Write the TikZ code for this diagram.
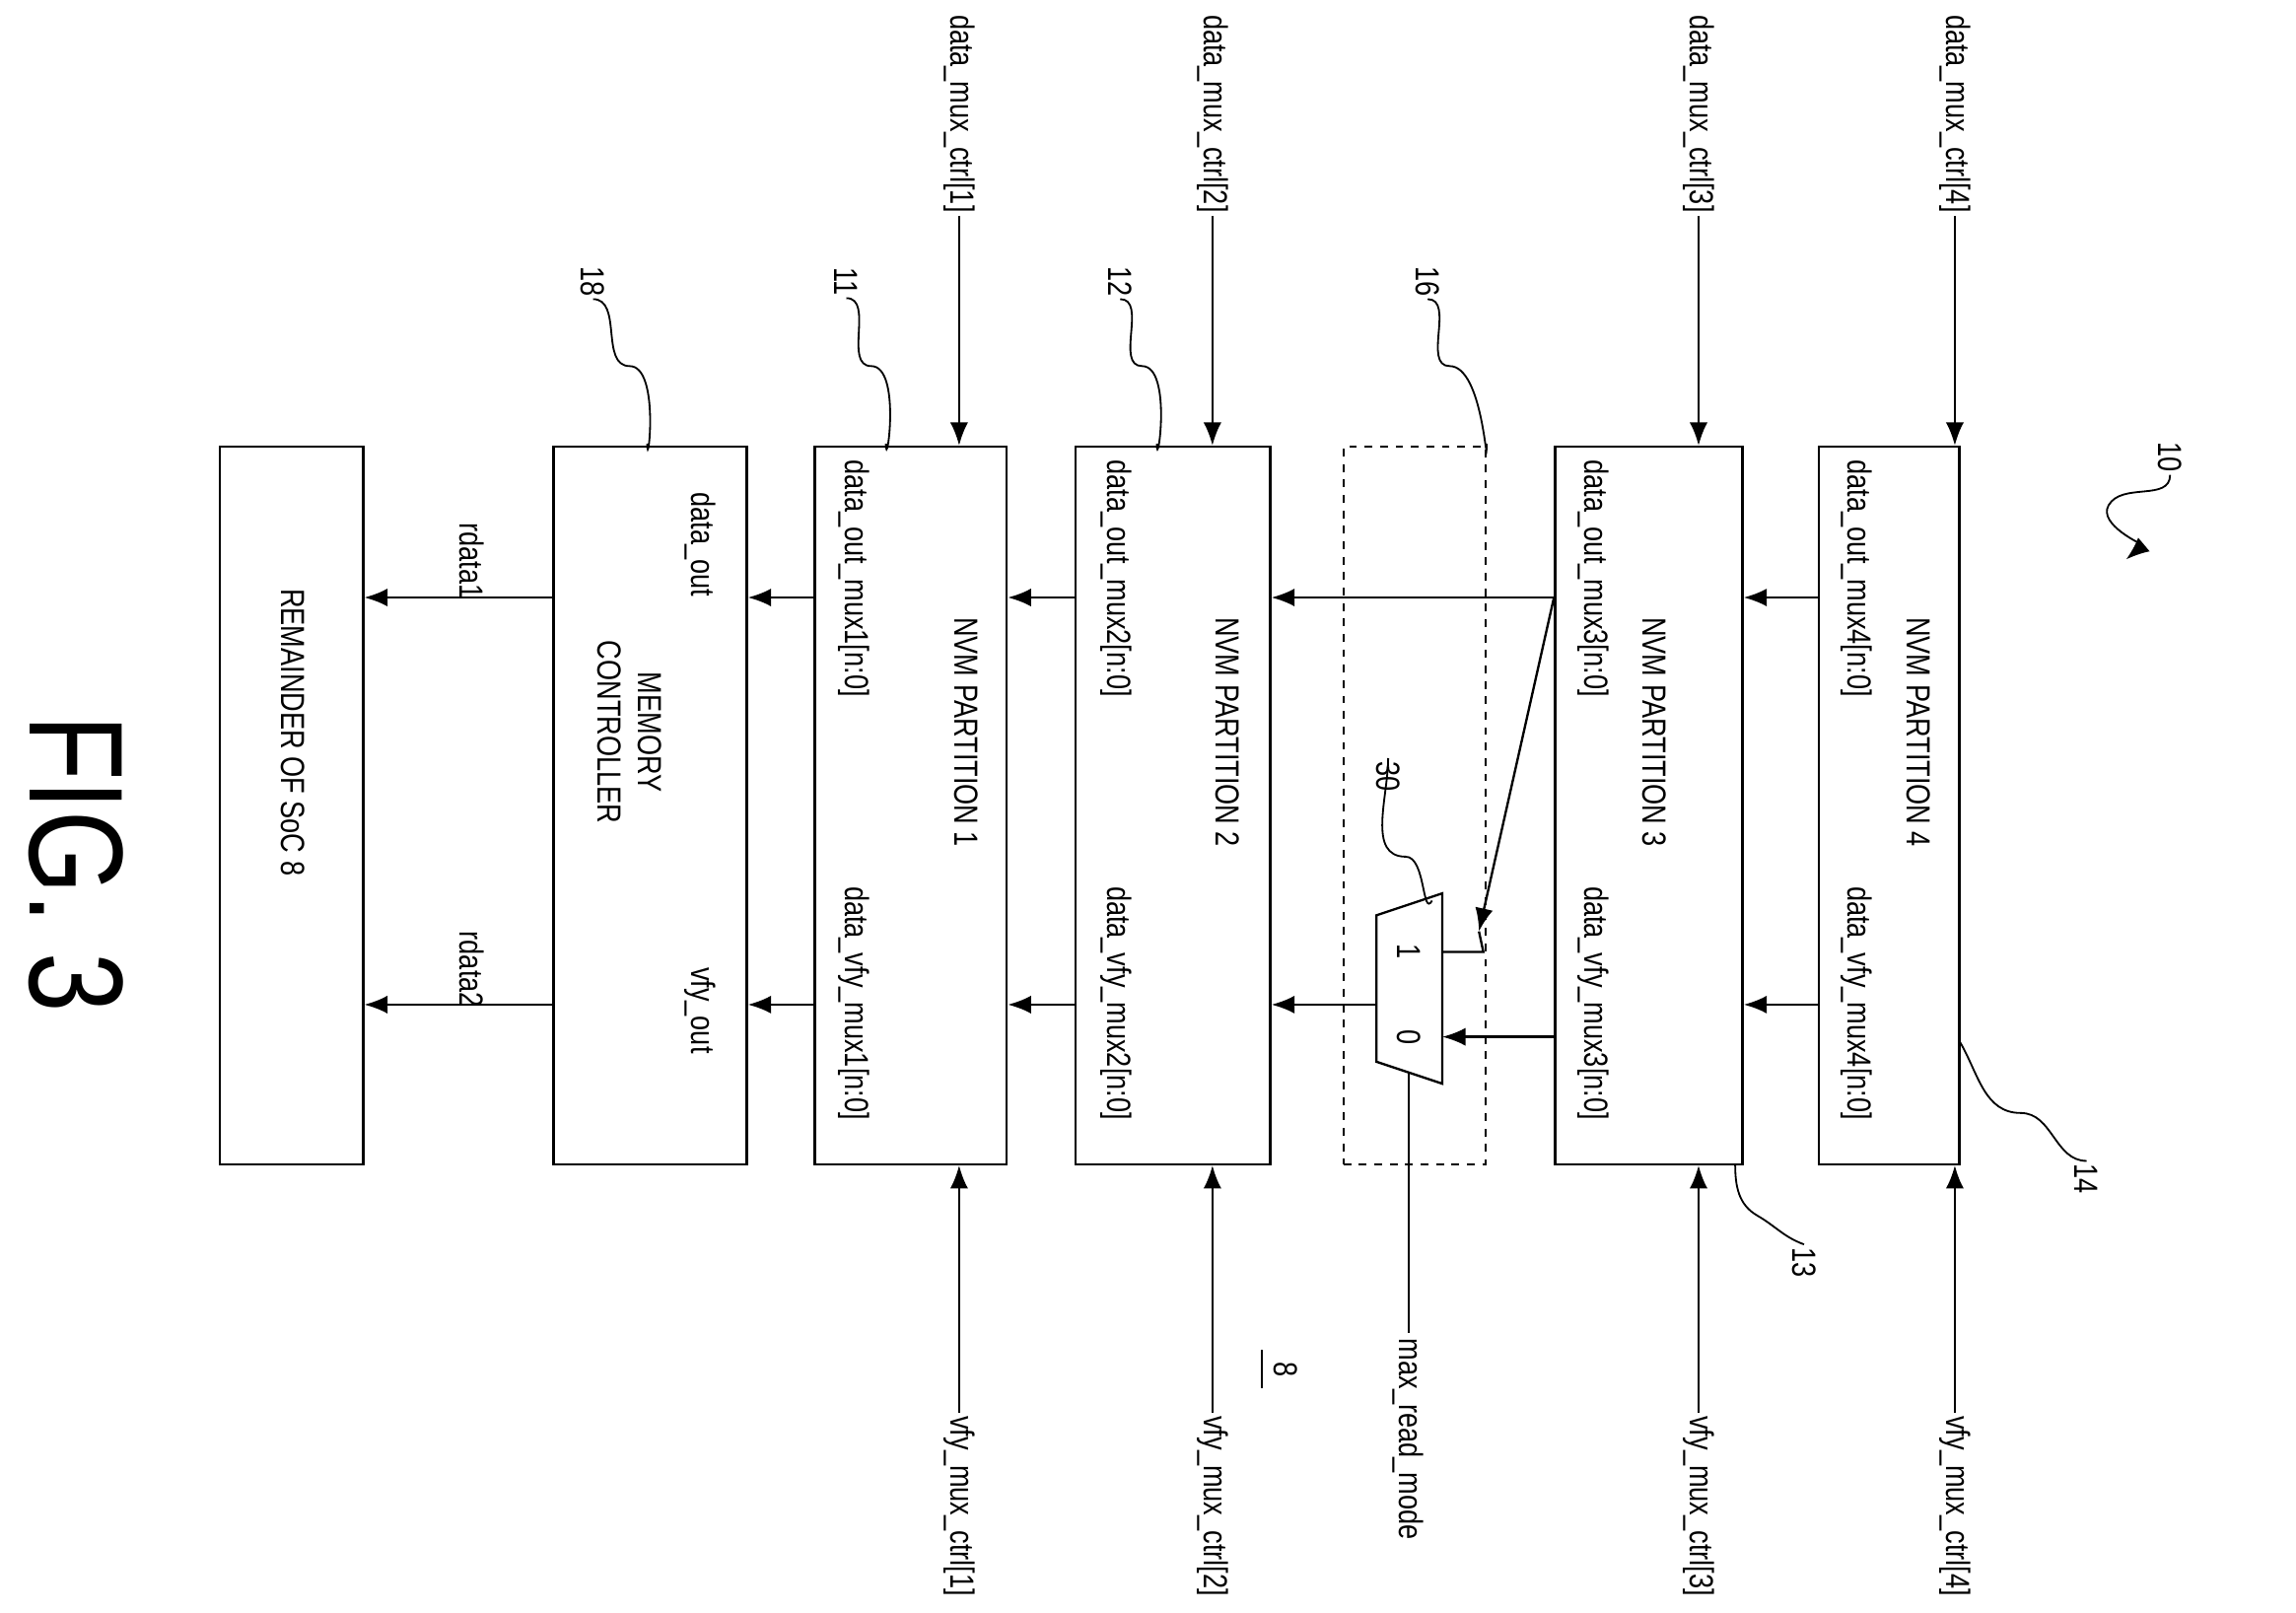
\documentclass[tikz,border=0pt]{standalone}
\usepackage{fontspec}
\setmainfont{Liberation Sans}[FakeStretch=0.8]
\usetikzlibrary{positioning, arrows.meta}

\begin{document}
\begin{tikzpicture}[
    x=0.02cm, y=-0.02cm,
    every node/.style={font=\fontsize{13}{16}\selectfont},
    box/.style={draw, line width=0.9pt, rectangle, minimum height=9.8cm},
    txt/.style={rotate=-90, inner sep=1pt},
    arrow/.style={-{Latex[length=9pt,width=7pt]}, line width=0.9pt},
    lead/.style={line width=0.7pt}
]
    \useasboundingbox (0,0) rectangle (1568,1101);
    % blocks
    \node[box, minimum width=1.92cm] (p4) at (1290,550) {};
    \node[box, minimum width=2.56cm] (p3) at (1126,550) {};
    \node[box, dashed, minimum width=1.94cm] (sel) at (966,550) {};
    \node[box, minimum width=2.66cm] (p2) at (801,550) {};
    \node[box, minimum width=2.62cm] (p1) at (622,550) {};
    \node[box, minimum width=2.64cm] (mc) at (444,550) {};
    \node[box, minimum width=1.96cm] (soc) at (199,550) {};
    % mux 30
    \draw[line width=0.9pt] (985,610) -- (985,740) -- (940,725) -- (940,625) -- cycle;
    \coordinate (mux1) at (985,650);
    \coordinate (mux0) at (985,708);
    \coordinate (muxo) at (940,686);
    \coordinate (muxs) at (962,733);

    % texts
    \node[txt] at (1310,500) {NVM PARTITION 4};
    \node[txt] at (1268,395) {data\_out\_mux4[n:0]};
    \node[txt] at (1268,685) {data\_vfy\_mux4[n:0]};
    \node[txt] at (1130,500) {NVM PARTITION 3};
    \node[txt] at (1088,395) {data\_out\_mux3[n:0]};
    \node[txt] at (1088,685) {data\_vfy\_mux3[n:0]};
    \node[txt] at (838,500) {NVM PARTITION 2};
    \node[txt] at (762,395) {data\_out\_mux2[n:0]};
    \node[txt] at (762,685) {data\_vfy\_mux2[n:0]};
    \node[txt] at (660,500) {NVM PARTITION 1};
    \node[txt] at (583,395) {data\_out\_mux1[n:0]};
    \node[txt] at (583,685) {data\_vfy\_mux1[n:0]};
    \node[txt] at (478,372) {data\_out};
    \node[txt, align=center] at (430,500) {MEMORY\\CONTROLLER};
    \node[txt] at (478,690) {vfy\_out};
    \node[txt] at (200,500) {REMAINDER OF SoC 8};
    \node[txt] at (962,650) {1};
    \node[txt] at (962,708) {0};
    \node[txt] (rd1) at (322,383) {rdata1};
    \node[txt] (rd2) at (322,662) {rdata2};

    % data path
    \foreach \y in {408,686} {
        \draw[arrow] (p4.west |- 0,\y) -- (p3.east |- 0,\y);
        \draw[arrow] (p2.west |- 0,\y) -- (p1.east |- 0,\y);
        \draw[arrow] (p1.west |- 0,\y) -- (mc.east |- 0,\y);
        \draw[arrow] (mc.west |- 0,\y) -- (soc.east |- 0,\y);
    }
    \draw[arrow] (p3.west |- 0,408) -- (p2.east |- 0,408);
    \draw[arrow] (p3.west |- 0,408) -- (1010,636);
    \draw[line width=0.9pt] (1010,636) -- (1013,650) -- (mux1);
    \draw[arrow] (p3.west |- 0,708) -- (mux0);
    \draw[arrow] (muxo) -- (p2.east |- 0,686);
    \draw[line width=0.9pt] (muxs) -- (962,910);

    % control inputs
    \foreach \i/\x/\n in {1/655/p1, 2/828/p2, 3/1160/p3, 4/1335/p4} {
        \node[txt, anchor=west] (dc\i) at (\x,8) {data\_mux\_ctrl[\i]};
        \draw[arrow] (dc\i.east) -- (\n.north -| \x,0);
        \node[txt, anchor=east] (vc\i) at (\x,1092) {vfy\_mux\_ctrl[\i]};
        \draw[arrow] (vc\i.west) -- (\n.south -| \x,0);
    }
    \node[txt, anchor=west] (mrm) at (962,912) {max\_read\_mode};

    % reference numerals
    \node[txt] (n10) at (1482,312) {10};
    \draw[lead, -{Latex[length=9pt,width=7pt]}] (n10.east) to[out=-90,in=60] (1440,345) to[out=-120,in=40] (1452,382);
    \node[txt] (n14) at (1425,805) {14};
    \draw[lead] (n14.west) to[out=180,in=0] (1380,760) to[out=180,in=-60] (p4.south east |- 0,712);
    \node[txt] (n13) at (1232,862) {13};
    \draw[lead] (n13.west) to[out=160,in=-30] (1200,830) to[out=150,in=-90] (1185,795);
    \node[txt] (n16) at (975,192) {16};
    \draw[lead] (n16.east) to[out=0,in=180] (990,250) to[out=0,in=-90] (sel.north east |- 0,303);
    \node[txt] (n12) at (765,192) {12};
    \draw[lead] (n12.east) to[out=0,in=180] (780,250) to[out=0,in=-90] (790,303);
    \node[txt] (n11) at (578,192) {11};
    \draw[lead] (n11.east) to[out=0,in=180] (595,250) to[out=0,in=-90] (605,303);
    \node[txt] (n18) at (405,192) {18};
    \draw[lead] (n18.east) to[out=0,in=180] (430,250) to[out=0,in=-90] (442,303);
    \node[txt] (n30) at (948,530) {30};
    \draw[lead] (n30.west) to[out=-90,in=180] (960,585) to[out=0,in=-120] (978,615);
    \node[txt] (n8) at (878,935) {8};
    \draw[lead] (862,922) -- (862,948);
    \node[rotate=-90, font=\fontsize{52}{56}\selectfont] (fig) at (52,590) {FIG. 3};
\end{tikzpicture}
\end{document}
